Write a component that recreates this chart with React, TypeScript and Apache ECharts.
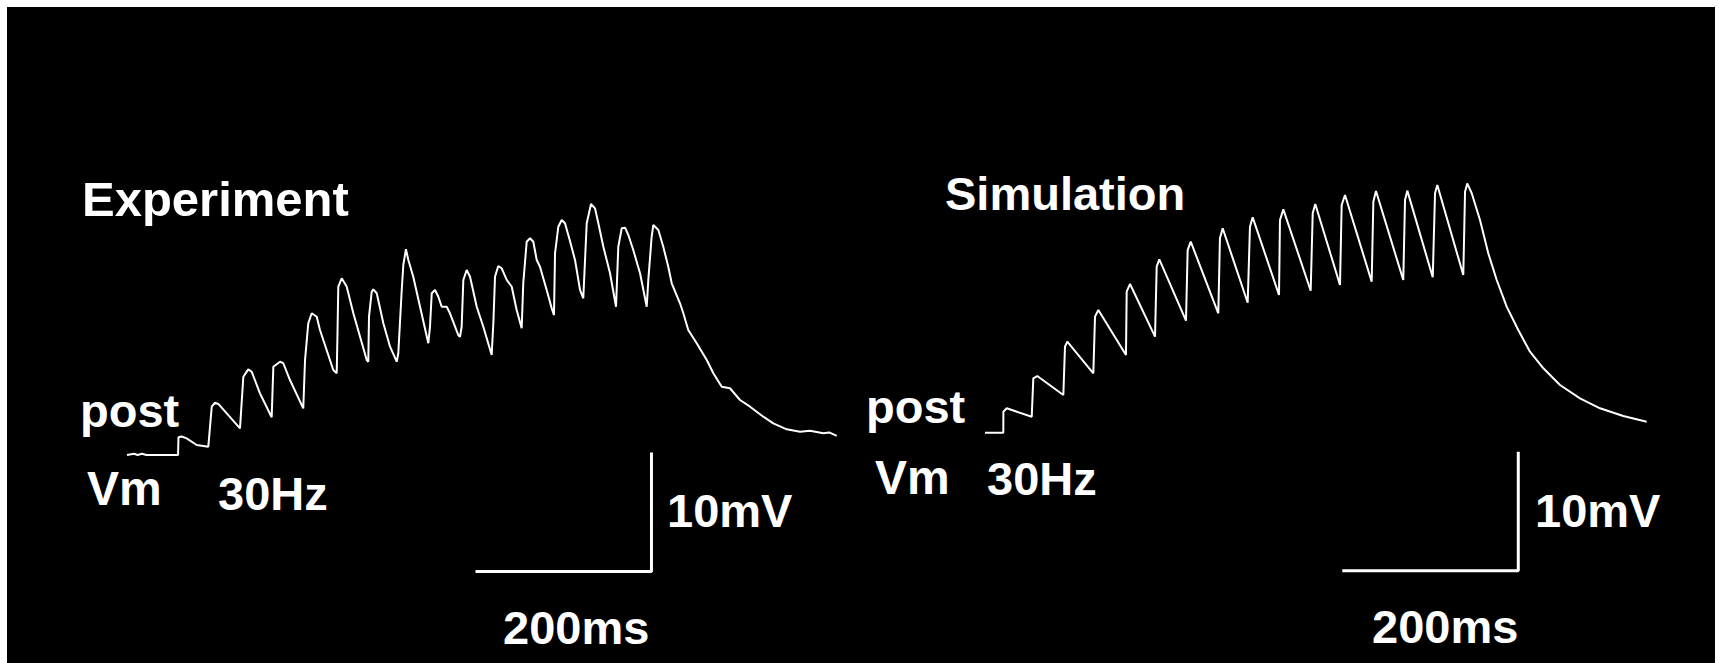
import React, { useEffect, useRef } from "react";
import * as echarts from "echarts";

// Postsynaptic membrane potential during 30 Hz stimulation.
// Time in ms from trace start, voltage in mV relative to resting baseline.
const experimentTrace: [number, number][] = [
  [0, 0], [8, 0.1], [12, 0], [17, 0.1], [22, 0], [58, 0],
  [58.5, 1.49], [62.2, 1.55], [67.8, 1.4], [79.2, 0.84], [92.4, 0.7],
  [96.3, 4.06], [100, 4.39], [103.8, 4.29], [128.4, 2.24],
  [132.2, 6.58], [137.8, 7.2], [141.7, 7.0], [151.1, 5.18], [164.4, 3.17],
  [166.3, 7.42], [173.9, 7.84], [177.6, 7.71], [185.2, 6.3], [200.3, 3.92],
  [202.3, 7.98], [206, 11.07], [209.9, 11.91], [215.6, 11.62], [219.3, 10.5], [234.4, 7.14], [238.3, 6.87],
  [239.2, 10.23], [240.1, 14.14], [244, 14.85], [249.7, 14.14], [257.2, 11.91], [272.4, 7.98], [274.2, 7.84],
  [275, 11.62], [278.1, 13.72], [279.9, 13.92], [283.8, 13.59], [291.3, 11.07], [298.9, 9.1], [306.5, 7.84],
  [308.3, 8.55], [312.2, 13.87], [314, 15.97], [317, 17.29], [319.7, 16.39], [325.3, 14.98], [333, 12.46], [342.4, 9.39],
  [344.3, 10.78], [346.3, 13.59], [350, 13.87], [353.8, 13.3], [357.6, 12.46], [363.3, 12.46], [367, 11.91], [376.5, 10.08], [378.4, 9.94],
  [380.3, 10.78], [382.2, 14.71], [386, 15.55], [389.8, 14.98], [397.4, 12.46], [404.9, 10.78], [414.4, 8.4],
  [416.3, 11.07], [418.2, 14.98], [421.9, 15.88], [425.8, 15.69], [431.5, 14.71], [437.2, 14.14], [442.8, 12.18], [448.5, 10.65],
  [450.3, 14.43], [454.2, 17.92], [458, 18.21], [461.7, 17.92], [465.6, 16.39], [469.3, 15.82], [476.9, 13.87], [482.6, 12.33], [485.2, 11.76],
  [486.4, 16.95], [490.1, 19.18], [494, 19.75], [497.7, 19.47], [503.4, 17.98], [509.1, 16.39], [514.8, 13.87], [518.5, 13.17],
  [522.4, 19.47], [527.3, 21.09], [531.8, 20.73], [535.6, 19.47], [541.3, 17.5], [548.9, 15.27], [555.7, 12.46],
  [558.3, 17.5], [562.2, 19.05], [566, 19.1], [569.7, 18.49], [575.3, 17.23], [583, 15.27], [590.6, 12.46],
  [592.4, 14.71], [596.2, 18.34], [598.1, 19.33], [603.8, 18.91], [609.4, 17.5], [615.1, 15.82], [619, 14.43],
  [628.4, 12.75], [632.2, 11.91], [637.8, 10.5], [647.4, 9.39], [658.8, 7.98], [666.3, 6.87], [675.8, 5.74],
  [685.2, 5.61], [696.6, 4.62], [708, 4.06], [723.1, 3.22], [734.4, 2.66], [749.7, 2.16], [764.8, 1.96],
  [776.1, 2.04], [791.3, 1.82], [798, 1.9], [806.5, 1.6],
];

const simulationTrace: [number, number][] = [
  [0, 0], [20.8, 0],
  [20.9, 1.76], [24.7, 2.05], [53.1, 1.34],
  [54.9, 4.57], [59.4, 4.76], [89.0, 3.17],
  [90.9, 7.23], [93.5, 7.65], [123.1, 4.99],
  [125.0, 9.75], [128.8, 10.31], [160.2, 6.53],
  [161.0, 11.85], [164.8, 12.5], [193.2, 8.07],
  [195.1, 13.95], [198.1, 14.57], [228.4, 9.41],
  [230.3, 15.35], [233.8, 16.05], [265.1, 10.03],
  [267.0, 16.34], [270.1, 17.18], [298.5, 10.92],
  [301.1, 17.31], [304.2, 18.1], [334.1, 11.57],
  [335.2, 17.87], [339.0, 18.77], [370.1, 11.93],
  [372.4, 18.44], [375.3, 19.22], [403.4, 12.41],
  [405.3, 19.13], [409.1, 19.97], [439.4, 12.69],
  [441.3, 19.41], [444.3, 20.31], [475.3, 12.83],
  [477.3, 19.55], [479.9, 20.34], [508.8, 13.06],
  [511.4, 20.12], [514.0, 20.82], [543.5, 13.25],
  [545.5, 20.25], [548.0, 20.95], [553.1, 20.12],
  [562.5, 17.87], [571.9, 15.08], [581.5, 12.83], [592.8, 10.59], [606.0, 8.63],
  [619.3, 6.81], [634.5, 5.41], [653.4, 4.01], [676.1, 2.89], [698.9, 2.05],
  [725.3, 1.4], [751.9, 0.92],
];

// 200 ms / 10 mV calibration bars
const experimentScaleBar: [number, number][] = [[396, -9.8], [596, -9.8], [596, 0.2]];
const simulationScaleBar: [number, number][] = [[406, -11.6], [606, -11.6], [606, -1.6]];

const panelTitles = ["Experiment", "Simulation"];
const traceLabels = ["post", "Vm", "30Hz"];
const scaleLabels = ["10mV", "200ms"];

const TIME_RANGE: [number, number] = [0, 820];
const VOLT_RANGE: [number, number] = [-15, 25];

const FONT = {
  fill: "#ffffff",
  fontSize: 47,
  fontWeight: "bold" as const,
  fontFamily: '"Liberation Sans", Arial, sans-serif',
  align: "left" as const,
  verticalAlign: "middle" as const,
};

function label(text: string, x: number, y: number, fontSize = 47) {
  return { type: "text", x, y, z: 10, style: { ...FONT, fontSize, text } };
}

export default function App() {
  const ref = useRef<HTMLDivElement>(null);

  useEffect(() => {
    if (!ref.current) return;
    const chart = echarts.init(ref.current, undefined, { renderer: "svg" });

    const pxPerMs = 0.88;
    const pxPerMv = 11.9;
    const gridW = (TIME_RANGE[1] - TIME_RANGE[0]) * pxPerMs;
    const gridH = (VOLT_RANGE[1] - VOLT_RANGE[0]) * pxPerMv;

    const axisX = (gridIndex: number) => ({
      type: "value" as const,
      gridIndex,
      min: TIME_RANGE[0],
      max: TIME_RANGE[1],
      show: false,
    });
    const axisY = (gridIndex: number) => ({
      type: "value" as const,
      gridIndex,
      min: VOLT_RANGE[0],
      max: VOLT_RANGE[1],
      show: false,
    });
    const line = (data: [number, number][], idx: number, width: number) => ({
      type: "line" as const,
      xAxisIndex: idx,
      yAxisIndex: idx,
      data,
      symbol: "none",
      lineStyle: { color: "#ffffff", width },
      silent: true,
    });

    chart.setOption({
      animation: false,
      backgroundColor: "#ffffff",
      grid: [
        { left: 127, top: 455 - VOLT_RANGE[1] * pxPerMv, width: gridW, height: gridH, containLabel: false, outerBoundsMode: "none" },
        { left: 985, top: 432.7 - VOLT_RANGE[1] * pxPerMv, width: gridW, height: gridH, containLabel: false, outerBoundsMode: "none" },
      ],
      xAxis: [axisX(0), axisX(1)],
      yAxis: [axisY(0), axisY(1)],
      series: [
        line(experimentTrace, 0, 2),
        line(experimentScaleBar, 0, 3),
        line(simulationTrace, 1, 2),
        line(simulationScaleBar, 1, 3),
      ],
      graphic: [
        { type: "rect", z: -10, shape: { x: 7, y: 7, width: 1708, height: 656 }, style: { fill: "#000000" } },
        label(panelTitles[0], 82, 199, 49),
        label(panelTitles[1], 945, 193),
        label(traceLabels[0], 80, 410),
        label(traceLabels[1], 87, 488, 48),
        label(traceLabels[2], 218, 493),
        label(traceLabels[0], 866, 406),
        label(traceLabels[1], 875, 477, 48),
        label(traceLabels[2], 987, 478),
        label(scaleLabels[0], 667, 510),
        label(scaleLabels[0], 1535, 510),
        label(scaleLabels[1], 503, 627),
        label(scaleLabels[1], 1372, 626),
      ],
    });

    return () => chart.dispose();
  }, []);

  return (
    <div
      ref={ref}
      style={{ position: "fixed", left: 0, top: 0, width: 1719, height: 663 }}
    />
  );
}
